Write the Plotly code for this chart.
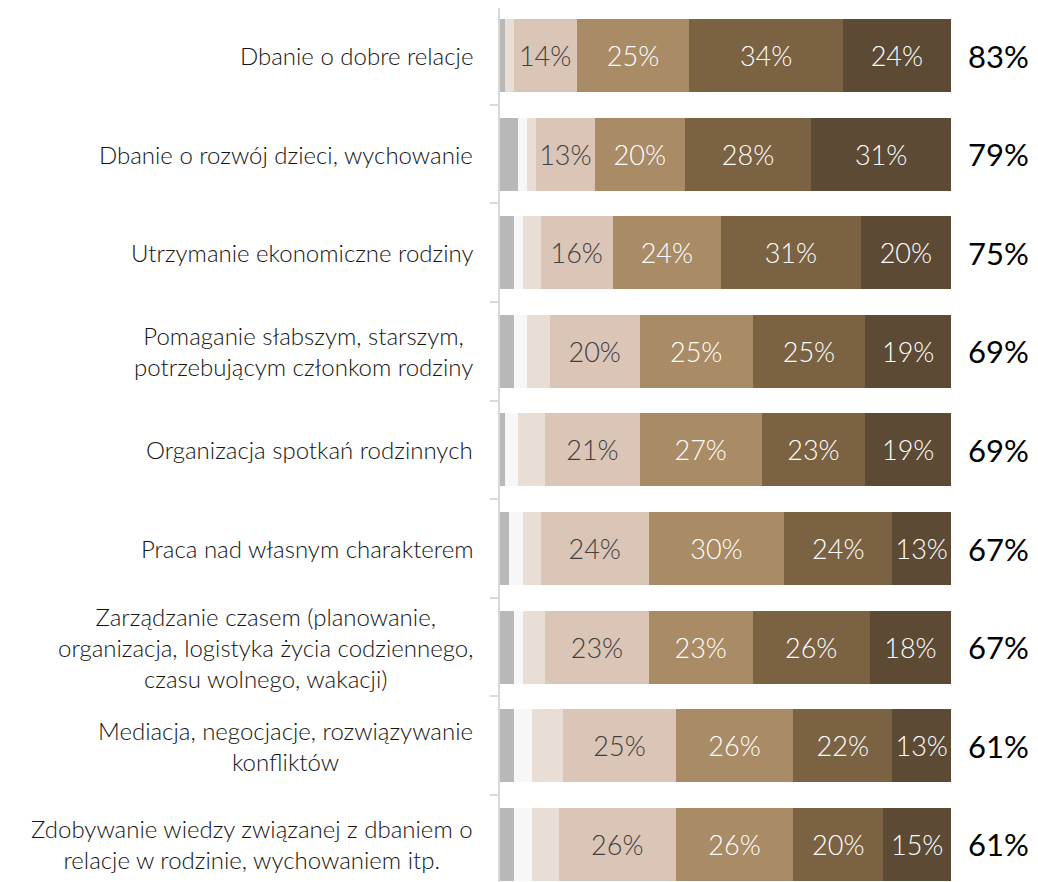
import plotly.graph_objects as go

categories = [
    "Dbanie o dobre relacje",
    "Dbanie o rozwój dzieci, wychowanie",
    "Utrzymanie ekonomiczne rodziny",
    "Pomaganie słabszym, starszym,<br>potrzebującym członkom rodziny",
    "Organizacja spotkań rodzinnych",
    "Praca nad własnym charakterem",
    "Zarządzanie czasem (planowanie,<br>organizacja, logistyka życia codziennego,<br>czasu wolnego, wakacji)",
    "Mediacja, negocjacje, rozwiązywanie<br>konfliktów",
    "Zdobywanie wiedzy związanej z dbaniem o<br>relacje w rodzinie, wychowaniem itp.",
]

# udziały w % (kolejno od lewej do prawej)
trudno = [1, 4, 3, 3, 1, 2, 3, 3, 3]
ocena1 = [0, 2, 2, 3, 3, 3, 2, 4, 4]
ocena2 = [2, 2, 4, 5, 6, 4, 5, 7, 6]
ocena3 = [14, 13, 16, 20, 21, 24, 23, 25, 26]
ocena4 = [25, 20, 24, 25, 27, 30, 23, 26, 26]
ocena5 = [34, 28, 31, 25, 23, 24, 26, 22, 20]
ocena6 = [24, 31, 20, 19, 19, 13, 18, 13, 15]
razem_top3 = [83, 79, 75, 69, 69, 67, 67, 61, 61]

series = [
    ("trudno powiedzieć", trudno, "#b8b8b8", False, "#404040"),
    ("1", ocena1, "#f7f7f7", False, "#404040"),
    ("2", ocena2, "#e9ded6", False, "#404040"),
    ("3", ocena3, "#dac5b7", True, "#404040"),
    ("4", ocena4, "#a98b66", True, "#ffffff"),
    ("5", ocena5, "#7a6243", True, "#ffffff"),
    ("6", ocena6, "#5c4a35", True, "#ffffff"),
]

FONT = "Lato"
ypos = list(range(len(categories)))

# strona ma 8px marginesu, więc figura jest o tyle mniejsza
W, H = 1030, 874

fig = go.Figure()
for name, vals, color, show, tcolor in series:
    fig.add_trace(go.Bar(
        y=ypos,
        x=vals,
        name=name,
        orientation="h",
        width=0.74,
        marker=dict(color=color, line=dict(width=0)),
        text=[f"{v}%" for v in vals] if show else None,
        textposition="inside" if show else "none",
        insidetextanchor="middle",
        constraintext="none",
        textfont=dict(family=FONT, size=27, color=tcolor, weight=300),
        hoverinfo="x+name",
    ))

# etykiety kategorii (wyśrodkowane wiersze)
for i, cat in enumerate(categories):
    fig.add_annotation(
        x=0, y=i, xref="x", yref="y",
        text=cat, showarrow=False,
        xanchor="right", yanchor="middle", align="center",
        xshift=-25,
        font=dict(family=FONT, size=24, color="#141414", weight=300),
    )

# suma trzech najwyższych ocen
for i, tot in enumerate(razem_top3):
    fig.add_annotation(
        x=100, y=i, xref="x", yref="y",
        text=f"{tot}%", showarrow=False,
        xanchor="left", yanchor="middle",
        xshift=15,
        font=dict(family=FONT, size=31, color="#000000", weight=400),
    )

fig.update_layout(
    barmode="stack",
    width=W,
    height=H,
    margin=dict(l=0, r=0, t=0, b=0),
    paper_bgcolor="white",
    plot_bgcolor="white",
    showlegend=False,
    xaxis=dict(
        domain=[492 / W, 943 / W],
        range=[0, 100],
        visible=False,
        fixedrange=True,
    ),
    yaxis=dict(
        range=[8.382, -0.482],
        tickmode="array",
        tickvals=[i - 0.5 for i in range(len(categories) + 1)],
        showticklabels=False,
        ticks="outside",
        ticklen=8,
        tickwidth=1.5,
        tickcolor="#d9d9d9",
        showline=True,
        linecolor="#d9d9d9",
        linewidth=1.5,
        showgrid=False,
        zeroline=False,
        fixedrange=True,
    ),
)

fig.write_html("out.html")
